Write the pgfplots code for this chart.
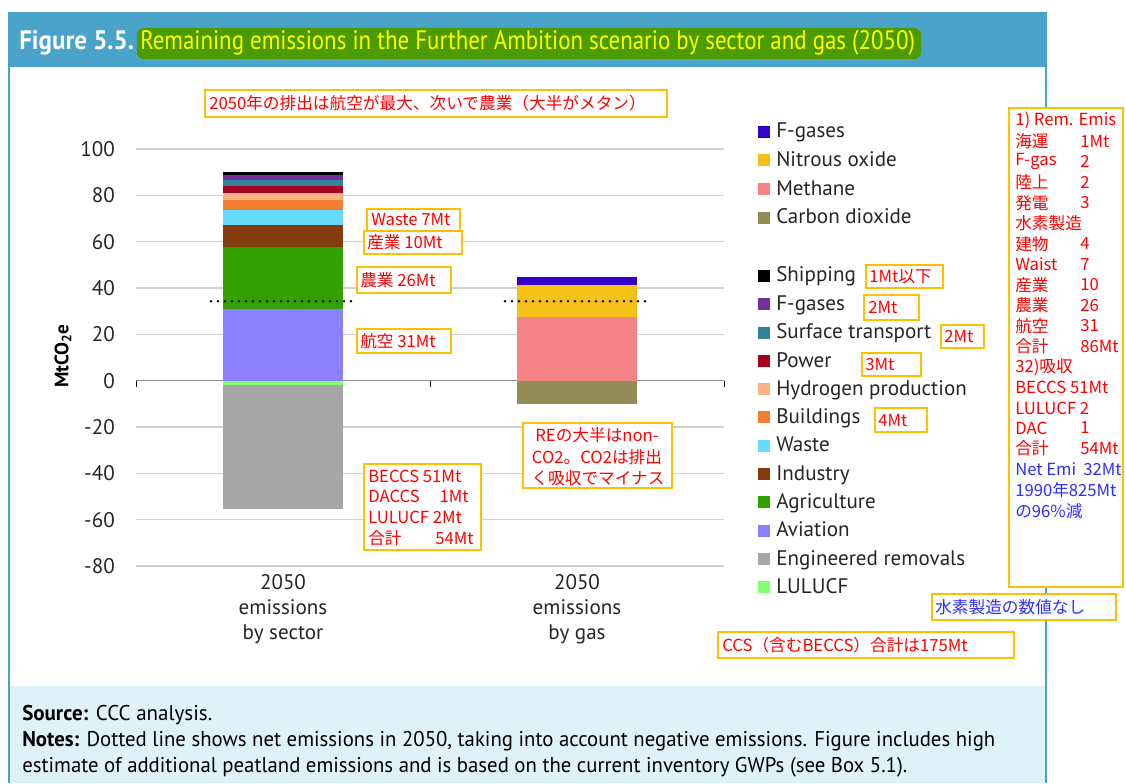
\documentclass[border=0pt]{standalone}
\usepackage{fontspec}
\setmainfont{PT Sans}
\newfontfamily\cjk{Noto Sans CJK JP}
\usepackage{graphicx}
\usepackage{pgfplots}
\pgfplotsset{compat=1.18}
\definecolor{frameblue}{HTML}{4AA3C9}
\definecolor{titlegreen}{HTML}{4C9C00}
\definecolor{titleyellow}{HTML}{FFFF00}
\definecolor{noteblue}{HTML}{E0F2F9}
\definecolor{gridgray}{HTML}{D0D0D0}
\definecolor{zerogray}{HTML}{8C8C8C}
\definecolor{labelgray}{HTML}{262626}
\definecolor{boxorange}{HTML}{FFC000}
\definecolor{annred}{HTML}{FF0000}
\definecolor{annblue}{HTML}{2E2EFF}
\definecolor{cShip}{HTML}{000000}
\definecolor{cFgasS}{HTML}{7030A0}
\definecolor{cSurf}{HTML}{31849B}
\definecolor{cPower}{HTML}{A50021}
\definecolor{cHyd}{HTML}{F9B282}
\definecolor{cBuild}{HTML}{F47D32}
\definecolor{cWaste}{HTML}{66DAFF}
\definecolor{cInd}{HTML}{843C0C}
\definecolor{cAgr}{HTML}{33A100}
\definecolor{cAvi}{HTML}{8B80FF}
\definecolor{cEng}{HTML}{A6A6A6}
\definecolor{cLul}{HTML}{80FF70}
\definecolor{cFgasG}{HTML}{3300CC}
\definecolor{cNtwo}{HTML}{F5C118}
\definecolor{cMeth}{HTML}{F58385}
\definecolor{cCOtwo}{HTML}{938B55}
\newcommand{\lfont}{\fontsize{15.8}{18.75}\selectfont}
\newcommand{\jfont}{\cjk\fontsize{12.5}{15}\selectfont}
\tikzset{px/.style={x=0.75pt,y=-0.75pt,shift={(0pt,587.25pt)}},
  abox/.style={draw=boxorange, line width=1.3pt, fill=white},
  jt/.style={anchor=west, inner sep=0pt, font=\jfont, text=annred}}
\begin{document}
\begin{tikzpicture}
\useasboundingbox (0,0) rectangle (844.5pt,587.25pt);
\begin{scope}[px]
\fill[white] (0,0) rectangle (1126,783);
\fill[frameblue] (8,12) rectangle (1047,67);
\fill[noteblue] (9,686) rectangle (1046,783);
\draw[frameblue, line width=1.6pt] (9,66) -- (9,783) (1046,66) -- (1046,783);
\node[anchor=base west, inner sep=0pt, text=white, font=\bfseries\fontsize{20}{22}\selectfont] at (19,50) {\resizebox{86pt}{\height}{Figure 5.5.}};
\fill[titlegreen, rounded corners=5pt] (137,28) rectangle (921,59);
\node[anchor=base west, inner sep=0pt, text=titleyellow, font=\fontsize{20}{22}\selectfont] at (140,50) {\resizebox{581pt}{\height}{Remaining emissions in the Further Ambition scenario by sector and gas (2050)}};
\node[anchor=base west, inner sep=0pt, font=\fontsize{16}{18}\selectfont, text=black] at (22,720) {\resizebox{142.5pt}{\height}{\textbf{Source:} CCC analysis.}};
\node[anchor=base west, inner sep=0pt, font=\fontsize{16}{18}\selectfont, text=black] at (22,746) {\resizebox{729.75pt}{\height}{\textbf{Notes:} Dotted line shows net emissions in 2050, taking into account negative emissions. Figure includes high}};
\node[anchor=base west, inner sep=0pt, font=\fontsize{16}{18}\selectfont, text=black] at (22,772) {\resizebox{663.75pt}{\height}{estimate of additional peatland emissions and is based on the current inventory GWPs (see Box 5.1).}};
\end{scope}

\begin{axis}[
  at={(102pt,162.75pt)}, anchor=south west,
  scale only axis, width=441pt, height=312.75pt,
  xmin=-0.5, xmax=1.5, ymin=-80, ymax=100,
  ybar stacked, bar width=0.41,
  axis line style={draw=none},
  major tick length=0pt,
  ytick={-80,-60,...,100},
  ymajorgrids, grid style={gridgray, line width=1.1pt},
  extra y ticks={0}, extra y tick labels={},
  extra y tick style={grid style={zerogray, line width=1.1pt}},
  xtick={0,1},
  xticklabels={{2050\\emissions\\by sector},{2050\\emissions\\by gas}},
  xticklabel style={align=center, font=\lfont, text=labelgray, inner sep=0pt, yshift=-6.5pt},
  yticklabel style={font=\lfont, text=labelgray, inner sep=0pt, xshift=-15.75pt},
  /pgf/number format/assume math mode=true,
]
\addplot[fill=cAvi, draw=none] coordinates {(0,31) (1,0)};
\addplot[fill=cAgr, draw=none] coordinates {(0,26.5) (1,0)};
\addplot[fill=cInd, draw=none] coordinates {(0,9.5) (1,0)};
\addplot[fill=cWaste, draw=none] coordinates {(0,6.5) (1,0)};
\addplot[fill=cBuild, draw=none] coordinates {(0,4.3) (1,0)};
\addplot[fill=cHyd, draw=none] coordinates {(0,3.2) (1,0)};
\addplot[fill=cPower, draw=none] coordinates {(0,3.2) (1,0)};
\addplot[fill=cSurf, draw=none] coordinates {(0,2.5) (1,0)};
\addplot[fill=cFgasS, draw=none] coordinates {(0,2.2) (1,0)};
\addplot[fill=cShip, draw=none] coordinates {(0,1.1) (1,0)};
\addplot[fill=cMeth, draw=none] coordinates {(0,0) (1,27.5)};
\addplot[fill=cNtwo, draw=none] coordinates {(0,0) (1,13.9)};
\addplot[fill=cFgasG, draw=none] coordinates {(0,0) (1,3.4)};
\end{axis}

\begin{axis}[
  at={(102pt,162.75pt)}, anchor=south west,
  scale only axis, width=441pt, height=312.75pt,
  xmin=-0.5, xmax=1.5, ymin=-80, ymax=100,
  ybar stacked, bar width=0.41, hide axis,
]
\addplot[fill=cLul, draw=none] coordinates {(0,-2) (1,0)};
\addplot[fill=cEng, draw=none] coordinates {(0,-53.5) (1,0)};
\addplot[fill=cCOtwo, draw=none] coordinates {(0,0) (1,-10.1)};
\end{axis}

\begin{axis}[
  at={(102pt,162.75pt)}, anchor=south west,
  scale only axis, width=441pt, height=312.75pt,
  xmin=-0.5, xmax=1.5, ymin=-80, ymax=100, hide axis,
]
\addplot[black, line width=2pt, dash pattern=on 0pt off 5.25pt, line cap=round] coordinates {(-0.245,34.3) (0.245,34.3)};
\addplot[black, line width=2pt, dash pattern=on 0pt off 5.25pt, line cap=round] coordinates {(0.755,34.3) (1.245,34.3)};
\end{axis}

\begin{scope}[px]
\draw[black, line width=0.6pt] (136,381) -- (136,387) (430,381) -- (430,387) (724,381) -- (724,387);
% y label
\node[rotate=90, inner sep=0pt, font=\bfseries\fontsize{14.5}{16}\selectfont, text=black] at (63,356) {MtCO\textsubscript{2}e};
% legend
\foreach \c/\t/\y in {cFgasG/F-gases/132, cNtwo/Nitrous oxide/160.5, cMeth/Methane/189.5, cCOtwo/Carbon dioxide/218,
  cShip/Shipping/275.5, cFgasS/F-gases/304, cSurf/Surface transport/332.5, cPower/Power/361, cHyd/Hydrogen production/389,
  cBuild/Buildings/417, cWaste/Waste/445.5, cInd/Industry/474, cAgr/Agriculture/502, cAvi/Aviation/530.5,
  cEng/Engineered removals/559, cLul/LULUCF/587}
{
  \fill[\c] (758,\y-6) rectangle (770,\y+6);
  \node[anchor=base west, inner sep=0pt, font=\lfont, text=labelgray] at (776,\y+6) {\t};
}
% annotation boxes
\draw[abox] (205,90) rectangle (667,117);
\node[jt] at (209,103.5) {2050年の排出は航空が最大、次いで農業（大半がメタン）};
\draw[abox] (367,209) rectangle (460,231);
\node[jt] at (371,220) {Waste 7Mt};
\draw[abox] (364,231) rectangle (462,254);
\node[jt] at (367,242.5) {産業 10Mt};
\draw[abox] (357,267) rectangle (451,293);
\node[jt] at (360,280) {農業 26Mt};
\draw[abox] (357,329) rectangle (451,353);
\node[jt] at (360,341) {航空 31Mt};
\draw[abox] (364,464) rectangle (481,550);
\node[jt] at (368,476) {BECCS 51Mt};
\node[jt] at (368,496.5) {DACCS};
\node[jt, anchor=east] at (469,496.5) {1Mt};
\node[jt] at (368,517) {LULUCF 2Mt};
\node[jt] at (368,538) {合計};
\node[jt, anchor=east] at (474,538) {54Mt};
\draw[abox] (523,423) rectangle (672,488);
\node[jt, anchor=center] at (597,435) {REの大半はnon-};
\node[jt, anchor=center] at (597,457) {CO2。CO2は排出};
\node[jt, anchor=center] at (598,478) {く吸収でマイナス};
% legend side boxes
\draw[abox] (866,265) rectangle (943,288);
\node[jt] at (869,276.5) {1Mt以下};
\draw[abox] (864,295) rectangle (919,320);
\node[jt] at (868,307.5) {2Mt};
\draw[abox] (941,325) rectangle (984,348);
\node[jt] at (944,336.5) {2Mt};
\draw[abox] (862,353) rectangle (921,376);
\node[jt] at (865,364) {3Mt};
\draw[abox] (875,408) rectangle (927,432);
\node[jt] at (878,420) {4Mt};
\draw[abox] (932,594) rectangle (1116,620);
\node[jt, text=annblue] at (935,607) {水素製造の数値なし};
\draw[abox] (718,632) rectangle (1014,658);
\node[jt] at (722,645) {CCS（含むBECCS）合計は175Mt};
% right box
\draw[abox] (1009,108) rectangle (1123,587);
\foreach \a/\b/\y in {海運/1Mt/141.3, F-gas/2/161.8, 陸上/2/182.3, 発電/3/202.8, 建物/4/243.8, Waist/7/264.3, 産業/10/284.8, 農業/26/305.3, 航空/31/325.8, 合計/86Mt/346.3, DAC/1/428, 合計/54Mt/448}
{
  \node[jt] at (1015,\y) {\a};
  \node[jt] at (1080,\y) {\b};
}
\node[jt] at (1015,120.7) {1) Rem. Emis};
\node[jt] at (1015,223.3) {水素製造};
\node[jt] at (1015,367.5) {32)吸収};
\node[jt] at (1015,387.5) {BECCS 51Mt};
\node[jt] at (1015,408) {LULUCF 2};
\node[jt, text=annblue] at (1015,469) {Net Emi};
\node[jt, text=annblue] at (1083,469) {32Mt};
\node[jt, text=annblue] at (1015,490) {1990年825Mt};
\node[jt, text=annblue] at (1015,511) {の96\%減};
\end{scope}
\end{tikzpicture}
\end{document}
